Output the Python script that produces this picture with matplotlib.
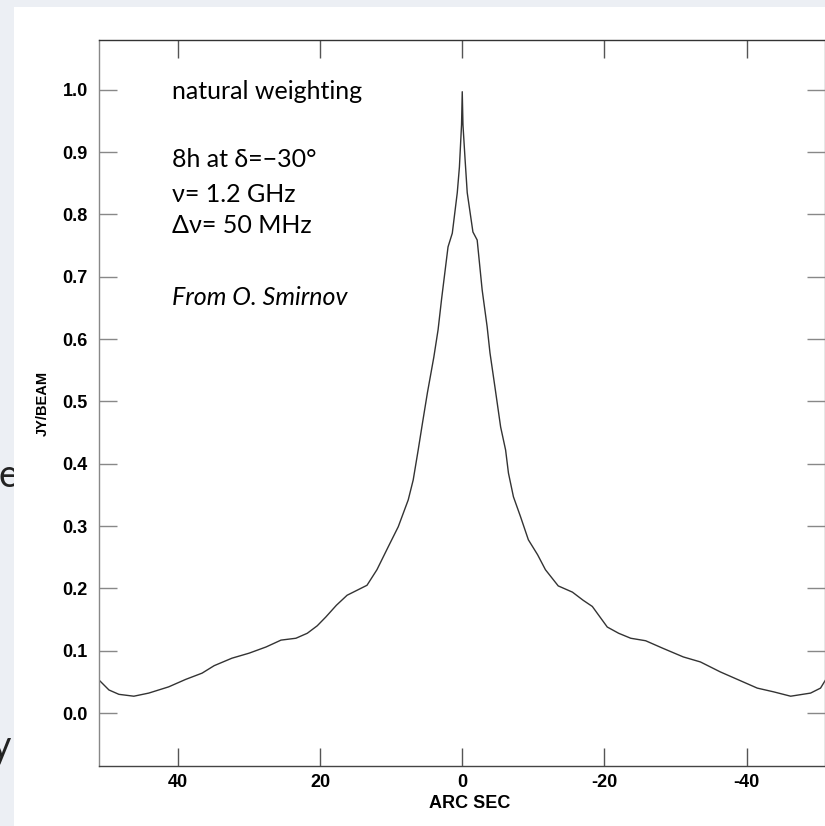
import matplotlib.pyplot as plt
from matplotlib.patches import Rectangle

# ── Données (profil du lobe, natural weighting) ──
arcsec = [51.1, 49.7, 48.3, 46.2, 44.1, 41.3, 38.9, 36.6, 34.9, 32.4,
          30.0, 27.6, 25.5, 23.4, 21.8, 20.4, 19.2, 17.7, 16.2, 14.8,
          13.4, 12.0, 10.4, 9.0, 7.6, 6.9, 6.2, 5.6, 4.9, 4.0,
          3.4, 2.9, 2.0, 1.4, 0.7, 0.4, 0.1, 0.0,
          -0.1, -0.4, -0.7, -1.5, -2.1, -2.8, -3.5, -3.9, -4.6, -5.4,
          -6.1, -6.5, -7.2, -8.2, -9.3, -10.6, -11.7, -13.5, -15.5, -17.0,
          -18.3, -20.4, -22.0, -23.7, -25.8, -28.2, -31.1, -33.5, -36.3, -38.7,
          -41.5, -43.8, -46.2, -49.0, -50.4, -51.1]
jy_beam = [0.053, 0.037, 0.030, 0.027, 0.032, 0.042, 0.054, 0.064, 0.076, 0.088,
           0.096, 0.106, 0.117, 0.120, 0.128, 0.140, 0.154, 0.173, 0.189, 0.197,
           0.205, 0.230, 0.267, 0.299, 0.342, 0.374, 0.422, 0.465, 0.514, 0.571,
           0.615, 0.665, 0.748, 0.770, 0.835, 0.876, 0.944, 0.997,
           0.944, 0.888, 0.835, 0.772, 0.759, 0.679, 0.620, 0.578, 0.523, 0.459,
           0.422, 0.385, 0.347, 0.315, 0.278, 0.254, 0.230, 0.204, 0.194, 0.181,
           0.171, 0.138, 0.128, 0.120, 0.116, 0.104, 0.090, 0.082, 0.066, 0.054,
           0.040, 0.034, 0.027, 0.032, 0.040, 0.053]

x_ticks  = [40, 20, 0, -20, -40]
x_labels = ['40', '20', '0', '-20', '-40']
y_ticks  = [0.0, 0.1, 0.2, 0.3, 0.4, 0.5, 0.6, 0.7, 0.8, 0.9, 1.0]

notes = ['natural weighting', '8h at δ=−30°', 'ν= 1.2 GHz', 'Δν= 50 MHz']
credit = 'From O. Smirnov'

# ── Figure ───────────────────────────────────────────────────
W, H = 825, 826
fig = plt.figure(figsize=(W / 100, H / 100), dpi=100)
fig.patch.set_facecolor('#eceff4')

# bouts de texte de la diapo, masqués par le panneau blanc
fig.text(-1 / W, 1 - 476 / H, 'e', fontsize=27, family='Lato', color='#222222',
         ha='left', va='center', zorder=-2)
fig.text(11 / W, 1 - 758 / H, 'y', fontsize=27, family='Lato', color='#222222',
         ha='right', va='baseline', zorder=-2)
fig.add_artist(Rectangle((14 / W, 0), 1, 1 - 7 / H, transform=fig.transFigure,
                         facecolor='white', edgecolor='none', zorder=-1))

ax = fig.add_axes([99 / W, 60 / H, (825.5 - 99) / W, (766 - 40) / H])
ax.set_facecolor('white')
ax.plot(arcsec, jy_beam, color='#333333', linewidth=1.0)

ax.set_xlim(51.1, -51.1)
ax.set_ylim(-0.085, 1.08)

tick_font = dict(family='Liberation Sans', weight='bold', size=13)
ax.set_xticks(x_ticks)
ax.set_xticklabels(x_labels, **tick_font)
ax.set_yticks(y_ticks)
ax.set_yticklabels([f'{v:.1f}' for v in y_ticks], **tick_font)
ax.tick_params(axis='both', direction='in', length=13, width=1.0,
               top=True, right=True, color='#555555')
ax.tick_params(axis='x', pad=6)
ax.tick_params(axis='y', pad=8, color='#888888')

for side, col in [('top', '#333333'), ('bottom', '#444444'),
                  ('left', '#888888'), ('right', '#888888')]:
    ax.spines[side].set_color(col)
    ax.spines[side].set_linewidth(1.0)

ax.set_xlabel('ARC SEC', **tick_font)
ax.xaxis.set_label_coords((470 - 99) / 726.5, -0.040)
ax.set_ylabel('JY/BEAM', family='Liberation Sans', weight='bold', size=10.5)
ax.yaxis.set_label_coords((50 - 99) / 726.5, 0.5)

# annotations
baselines = [99, 167, 202, 233]
for txt, yb in zip(notes, baselines):
    fig.text(172 / W, 1 - yb / H, txt, fontsize=18, family='Lato',
             color='black', va='baseline')
fig.text(172 / W, 1 - 305 / H, credit, fontsize=18, family='Lato',
         style='italic', color='black', va='baseline')

plt.savefig('out.png', dpi=100)
